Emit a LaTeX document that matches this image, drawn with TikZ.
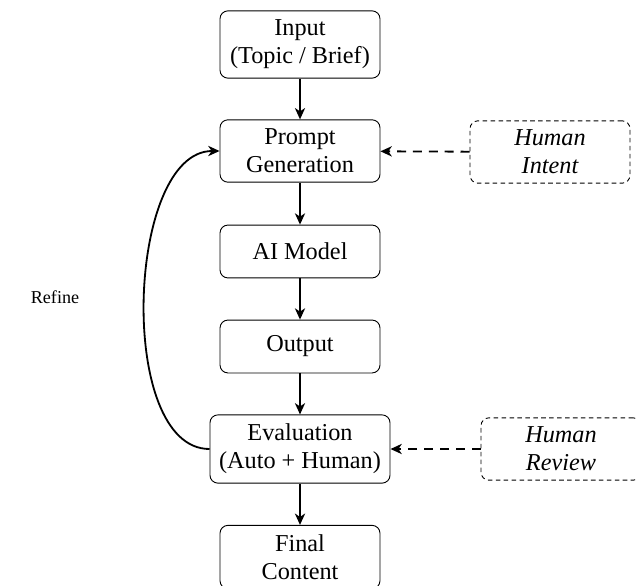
\documentclass[tikz,border=0pt]{standalone}
\usepackage{fontspec}
\setmainfont{Liberation Serif}
\usetikzlibrary{arrows.meta}

\begin{document}
\begin{tikzpicture}[x=0.0155cm,y=-0.0155cm]
        \tikzstyle{stage}=[draw,thin,rounded corners=3.5pt,align=center,font=\fontsize{10.7}{12.4}\selectfont,minimum width=2.48cm,minimum height=0.82cm,inner sep=4pt]
        \tikzstyle{human}=[stage,dash pattern=on 2pt off 1.5pt,font=\fontsize{10.7}{12.4}\selectfont\itshape]
        \tikzstyle{flow}=[thick,-{Stealth[length=5pt,width=4.5pt,inset=1.5pt]}]
        \tikzstyle{hint}=[flow,dash pattern=on 4pt off 3pt]
        \useasboundingbox (0,0) rectangle (637,585);
        \node[stage] (input) at (300,44.5) {Input\\(Topic / Brief)};
        \node[stage] (prompt) at (300,151) {Prompt\\Generation};
        \node[stage] (model) at (300,251.5) {AI Model};
        \node[stage] (output) at (300,346.5) {Output};
        \node[stage] (eval) at (300,449) {Evaluation\\(Auto + Human)};
        \node[stage] (final) at (300,557) {Final\\Content};
        \node[human] (intent) at (550,152) {Human\\Intent};
        \node[human] (review) at (561,449) {Human\\Review};
        \node[font=\footnotesize] (refine) at (55,297) {Refine};
        \draw[flow] (input) -- (prompt);
        \draw[flow] (prompt) -- (model);
        \draw[flow] (model) -- (output);
        \draw[flow] (output) -- (eval);
        \draw[flow] (eval) -- (final);
        \draw[hint] (intent) -- (prompt);
        \draw[hint] (review) -- (eval);
        \draw[flow] (eval.west) to[out=180,in=180,looseness=0.8] (prompt.west);
    \end{tikzpicture}
\end{document}
